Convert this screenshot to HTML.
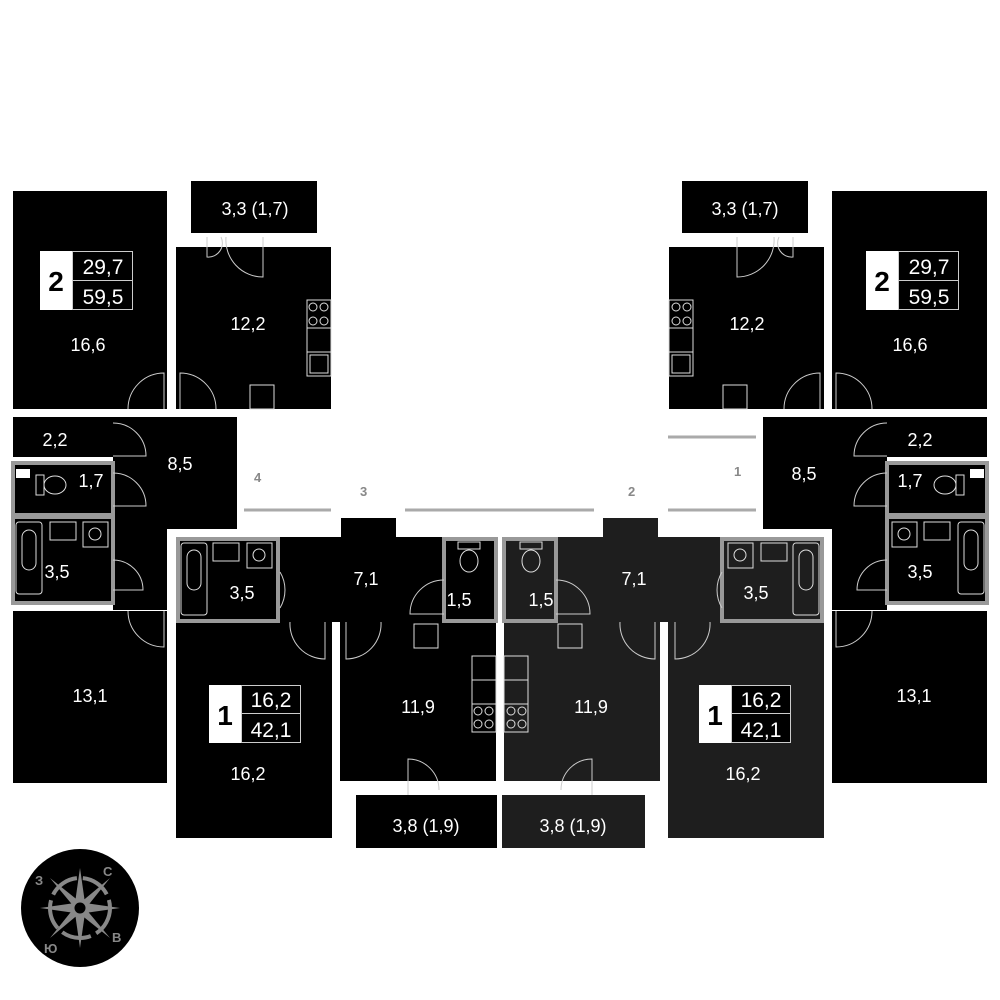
<!DOCTYPE html>
<html><head><meta charset="utf-8"><style>
html,body{margin:0;padding:0;background:#fff;}
svg{display:block}
text{font-family:"Liberation Sans",sans-serif;fill:#fff}
</style></head><body>
<svg width="1000" height="1000" viewBox="0 0 1000 1000" xmlns="http://www.w3.org/2000/svg">
<!-- LEFT 2-ROOM -->
<g fill="#000">
<rect x="13" y="191" width="154" height="218"/>
<rect x="191" y="181" width="126" height="52"/>
<rect x="176" y="247" width="155" height="162"/>
<rect x="113" y="417" width="124" height="112"/>
<rect x="113" y="417" width="54" height="193"/>
<rect x="13" y="417" width="100" height="40"/>
<rect x="13" y="611" width="154" height="172"/>
</g>
<rect x="13" y="463" width="100" height="52" fill="#000" stroke="#999" stroke-width="4"/>
<rect x="13" y="517" width="100" height="86" fill="#000" stroke="#999" stroke-width="4"/>
<rect x="16" y="469" width="14" height="9" fill="#fff"/>

<!-- RIGHT 2-ROOM -->
<g fill="#000">
<rect x="832" y="191" width="155" height="218"/>
<rect x="682" y="181" width="126" height="52"/>
<rect x="669" y="247" width="155" height="162"/>
<rect x="763" y="417" width="124" height="112"/>
<rect x="832" y="417" width="55" height="193"/>
<rect x="887" y="417" width="100" height="40"/>
<rect x="832" y="611" width="155" height="172"/>
</g>
<rect x="887" y="463" width="100" height="52" fill="#000" stroke="#999" stroke-width="4"/>
<rect x="887" y="517" width="100" height="86" fill="#000" stroke="#999" stroke-width="4"/>
<rect x="970" y="469" width="14" height="9" fill="#fff"/>

<!-- CENTER LEFT 1-ROOM -->
<g fill="#000">
<rect x="278" y="537" width="166" height="85"/>
<rect x="341" y="518" width="55" height="20"/>
<rect x="176" y="622" width="156" height="216"/>
<rect x="340" y="622" width="156" height="159"/>
<rect x="356" y="795" width="141" height="53"/>
</g>
<rect x="178" y="539" width="100" height="82" fill="#000" stroke="#999" stroke-width="4"/>
<rect x="444" y="539" width="52" height="82" fill="#000" stroke="#999" stroke-width="4"/>

<!-- CENTER RIGHT 1-ROOM (dark gray) -->
<g fill="#1e1e1e">
<rect x="556" y="537" width="166" height="85"/>
<rect x="603" y="518" width="55" height="20"/>
<rect x="668" y="622" width="156" height="216"/>
<rect x="504" y="622" width="156" height="159"/>
<rect x="502" y="795" width="143" height="53"/>
</g>
<rect x="504" y="539" width="52" height="82" fill="#1e1e1e" stroke="#999" stroke-width="4"/>
<rect x="722" y="539" width="100" height="82" fill="#1e1e1e" stroke="#999" stroke-width="4"/>

<!-- gray corridor lines -->
<g stroke="#aaa" stroke-width="3">
<line x1="244" y1="510" x2="331" y2="510"/>
<line x1="405" y1="510" x2="594" y2="510"/>
<line x1="668" y1="510" x2="756" y2="510"/>
<line x1="668" y1="437" x2="756" y2="437"/>
</g>
<g font-size="13" font-weight="bold" style="fill:#888">
<text x="254" y="482" style="fill:#888">4</text>
<text x="360" y="496" style="fill:#888">3</text>
<text x="628" y="496" style="fill:#888">2</text>
<text x="734" y="476" style="fill:#888">1</text>
</g>

<!-- doors (arcs) -->
<g fill="none" stroke="#ccc" stroke-width="1">
<path d="M128 409 A36 36 0 0 1 164 373 V409"/>
<path d="M180 409 V373 A36 36 0 0 1 216 409"/>
<path d="M113 423 A33 33 0 0 1 146 456 H113"/>
<path d="M113 473 A33 33 0 0 1 146 506 H113"/>
<path d="M113 560 A30 30 0 0 1 143 590 H113"/>
<path d="M128 611 A36 36 0 0 0 164 647 V611"/>
<path d="M207 237 V257 A14 14 0 0 0 221 237"/>
<path d="M226 237 A37 37 0 0 0 263 277 V237"/>
<path d="M280 608 A35 35 0 0 0 280 572"/>
<path d="M290 622 A35 35 0 0 0 325 659 V622"/>
<path d="M346 622 V659 A35 35 0 0 0 381 622"/>
<path d="M444 580 A34 34 0 0 0 410 614 H444"/>
<path d="M408 795 V759 A31 31 0 0 1 439 790"/>
<path d="M872 409 A36 36 0 0 0 836 373 V409"/>
<path d="M820 409 V373 A36 36 0 0 0 784 409"/>
<path d="M887 423 A33 33 0 0 0 854 456 H887"/>
<path d="M887 473 A33 33 0 0 0 854 506 H887"/>
<path d="M887 560 A30 30 0 0 0 857 590 H887"/>
<path d="M872 611 A36 36 0 0 1 836 647 V611"/>
<path d="M793 237 V257 A14 14 0 0 1 779 237"/>
<path d="M774 237 A37 37 0 0 1 737 277 V237"/>
<path d="M722 608 A35 35 0 0 1 722 572"/>
<path d="M710 622 A35 35 0 0 1 675 659 V622"/>
<path d="M655 622 V659 A35 35 0 0 1 620 622"/>
<path d="M556 580 A34 34 0 0 1 590 614 H556"/>
<path d="M592 795 V759 A31 31 0 0 0 561 790"/>
</g>

<!-- fixtures -->
<g fill="none" stroke="#ddd" stroke-width="1">
<rect x="307" y="300" width="24" height="28"/><circle cx="313" cy="307" r="4"/><circle cx="324" cy="307" r="4"/><circle cx="313" cy="321" r="4"/><circle cx="324" cy="321" r="4"/>
<rect x="307" y="328" width="24" height="24"/><rect x="307" y="352" width="24" height="24"/><rect x="310" y="355" width="18" height="18"/>
<rect x="250" y="385" width="24" height="24"/>
<rect x="669" y="300" width="24" height="28"/><circle cx="676" cy="307" r="4"/><circle cx="687" cy="307" r="4"/><circle cx="676" cy="321" r="4"/><circle cx="687" cy="321" r="4"/>
<rect x="669" y="328" width="24" height="24"/><rect x="669" y="352" width="24" height="24"/><rect x="672" y="355" width="18" height="18"/>
<rect x="723" y="385" width="24" height="24"/>
<rect x="472" y="656" width="24" height="24"/><rect x="472" y="680" width="24" height="24"/><rect x="472" y="704" width="24" height="28"/>
<circle cx="478" cy="711" r="4"/><circle cx="489" cy="711" r="4"/><circle cx="478" cy="724" r="4"/><circle cx="489" cy="724" r="4"/>
<rect x="414" y="624" width="24" height="24"/>
<rect x="504" y="656" width="24" height="24"/><rect x="504" y="680" width="24" height="24"/><rect x="504" y="704" width="24" height="28"/>
<circle cx="511" cy="711" r="4"/><circle cx="522" cy="711" r="4"/><circle cx="511" cy="724" r="4"/><circle cx="522" cy="724" r="4"/>
<rect x="558" y="624" width="24" height="24"/>
<rect x="181" y="543" width="26" height="72" rx="3"/><rect x="187" y="550" width="14" height="40" rx="7"/>
<rect x="213" y="543" width="26" height="18"/><rect x="247" y="543" width="25" height="25"/><circle cx="259" cy="555" r="6"/>
<rect x="793" y="543" width="26" height="72" rx="3"/><rect x="799" y="550" width="14" height="40" rx="7"/>
<rect x="761" y="543" width="26" height="18"/><rect x="728" y="543" width="25" height="25"/><circle cx="740" cy="555" r="6"/>
<rect x="16" y="522" width="26" height="72" rx="3"/><rect x="22" y="530" width="14" height="40" rx="7"/>
<rect x="50" y="522" width="26" height="18"/><rect x="83" y="522" width="25" height="25"/><circle cx="95" cy="534" r="6"/>
<rect x="958" y="522" width="26" height="72" rx="3"/><rect x="964" y="530" width="14" height="40" rx="7"/>
<rect x="924" y="522" width="26" height="18"/><rect x="892" y="522" width="25" height="25"/><circle cx="904" cy="534" r="6"/>
<ellipse cx="55" cy="485" rx="11" ry="9"/><rect x="36" y="475" width="8" height="20"/>
<ellipse cx="945" cy="485" rx="11" ry="9"/><rect x="956" y="475" width="8" height="20"/>
<ellipse cx="469" cy="561" rx="9" ry="11"/><rect x="458" y="542" width="22" height="7"/>
<ellipse cx="531" cy="561" rx="9" ry="11"/><rect x="520" y="542" width="22" height="7"/>
</g>

<!-- labels -->
<g font-size="18" text-anchor="middle">
<text x="255" y="215">3,3 (1,7)</text>
<text x="745" y="215">3,3 (1,7)</text>
<text x="248" y="330">12,2</text>
<text x="747" y="330">12,2</text>
<text x="88" y="351">16,6</text>
<text x="910" y="351">16,6</text>
<text x="55" y="446">2,2</text>
<text x="920" y="446">2,2</text>
<text x="180" y="470">8,5</text>
<text x="804" y="480">8,5</text>
<text x="91" y="487">1,7</text>
<text x="910" y="487">1,7</text>
<text x="57" y="578">3,5</text>
<text x="920" y="578">3,5</text>
<text x="90" y="702">13,1</text>
<text x="914" y="702">13,1</text>
<text x="242" y="599">3,5</text>
<text x="366" y="585">7,1</text>
<text x="459" y="606">1,5</text>
<text x="541" y="606">1,5</text>
<text x="634" y="585">7,1</text>
<text x="756" y="599">3,5</text>
<text x="418" y="713">11,9</text>
<text x="591" y="713">11,9</text>
<text x="248" y="780">16,2</text>
<text x="743" y="780">16,2</text>
<text x="426" y="832">3,8 (1,9)</text>
<text x="573" y="832">3,8 (1,9)</text>
</g>

<!-- badges -->
<g>
<rect x="40" y="251" width="32" height="59" fill="#fff"/>
<text x="56" y="291" font-size="28" font-weight="bold" text-anchor="middle" style="fill:#000">2</text>
<rect x="72.5" y="251.5" width="60" height="29" fill="#000" stroke="#ccc"/>
<rect x="72.5" y="280.5" width="60" height="29" fill="#000" stroke="#ccc"/>
<text x="103" y="274" font-size="21" text-anchor="middle">29,7</text>
<text x="103" y="304" font-size="21" text-anchor="middle">59,5</text>

<rect x="866" y="251" width="32" height="59" fill="#fff"/>
<text x="882" y="291" font-size="28" font-weight="bold" text-anchor="middle" style="fill:#000">2</text>
<rect x="898.5" y="251.5" width="60" height="29" fill="#000" stroke="#ccc"/>
<rect x="898.5" y="280.5" width="60" height="29" fill="#000" stroke="#ccc"/>
<text x="929" y="274" font-size="21" text-anchor="middle">29,7</text>
<text x="929" y="304" font-size="21" text-anchor="middle">59,5</text>

<rect x="209" y="685" width="32" height="58" fill="#fff"/>
<text x="225" y="725" font-size="28" font-weight="bold" text-anchor="middle" style="fill:#000">1</text>
<rect x="241.5" y="685.5" width="59" height="28" fill="#000" stroke="#ccc"/>
<rect x="241.5" y="713.5" width="59" height="29" fill="#000" stroke="#ccc"/>
<text x="271" y="707" font-size="21" text-anchor="middle">16,2</text>
<text x="271" y="737" font-size="21" text-anchor="middle">42,1</text>

<rect x="699" y="685" width="32" height="58" fill="#fff"/>
<text x="715" y="725" font-size="28" font-weight="bold" text-anchor="middle" style="fill:#000">1</text>
<rect x="731.5" y="685.5" width="59" height="28" fill="#000" stroke="#ccc"/>
<rect x="731.5" y="713.5" width="59" height="29" fill="#000" stroke="#ccc"/>
<text x="761" y="707" font-size="21" text-anchor="middle">16,2</text>
<text x="761" y="737" font-size="21" text-anchor="middle">42,1</text>
</g>

<!-- compass -->
<g>
<circle cx="80" cy="908" r="59" fill="#000"/>
<circle cx="80" cy="908" r="30" fill="none" stroke="#888" stroke-width="4" stroke-dasharray="30 6"/>
<g fill="#888">
<polygon points="80,868 85,903 80,908 75,903"/>
<polygon points="80,948 85,913 80,908 75,913"/>
<polygon points="40,908 75,903 80,908 75,913"/>
<polygon points="120,908 85,903 80,908 85,913"/>
<polygon points="50,878 80,902 86,908 80,914"/>
<polygon points="110,938 80,914 74,908 80,902"/>
<polygon points="110,878 86,908 80,914 74,908"/>
<polygon points="50,938 74,908 80,902 86,908"/>
</g>
<circle cx="80" cy="908" r="7" fill="#000" stroke="#888" stroke-width="3"/>
<g font-size="13" font-weight="bold">
<text x="35" y="885" style="fill:#888">З</text>
<text x="103" y="876" style="fill:#888">С</text>
<text x="112" y="942" style="fill:#888">В</text>
<text x="44" y="953" style="fill:#888">Ю</text>
</g>
</g>
</svg>
</body></html>
